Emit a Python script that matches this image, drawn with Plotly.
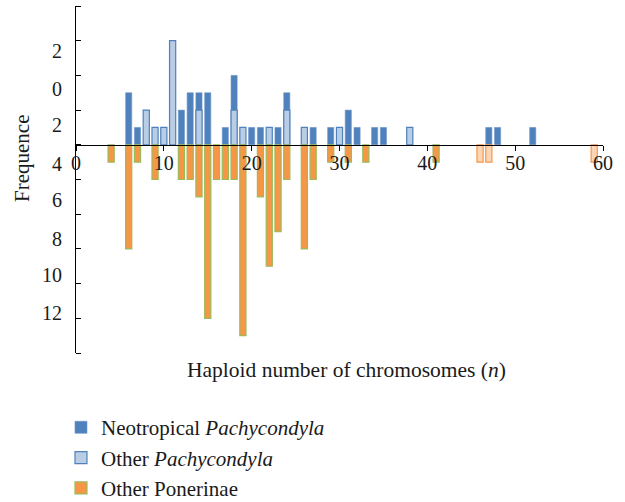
import plotly.graph_objects as go

# Haploid chromosome numbers (n) and how many species carry each one
neo_n = [6, 7, 12, 13, 14, 15, 17, 18, 20, 21, 23, 24, 27, 29, 31, 32, 34, 35, 47, 48, 52]
neo_freq = [3, 1, 2, 3, 3, 3, 1, 4, 1, 1, 1, 3, 1, 1, 2, 1, 1, 1, 1, 1, 1]

other_pachy_n = [8, 9, 10, 11, 14, 18, 19, 22, 24, 26, 30, 38]
other_pachy_freq = [2, 1, 1, 6, 2, 2, 1, 1, 2, 1, 1, 1]

ponerinae_n = [4, 6, 7, 9, 12, 13, 14, 15, 16, 17, 18, 19, 21, 22, 23, 24, 26, 27, 29, 31, 33, 41]
ponerinae_freq = [1, 6, 1, 2, 2, 2, 3, 10, 2, 2, 2, 11, 3, 7, 5, 2, 6, 2, 1, 1, 1, 1]

ponerinae_pale_n = [46, 47, 59]
ponerinae_pale_freq = [1, 1, 1]

# Axis tick labels as printed on the frequency axis
freq_label_pos = [5.43, 3.2, 1.13, -1.1, -3.21, -5.41, -7.52, -9.72]
freq_label_text = ["2", "0", "2", "4", "6", "8", "10", "12"]
freq_tick_marks = [-12, -10, -8, -6, -4, -2, 0, 2, 4, 6, 8]
n_ticks = [0, 10, 20, 30, 40, 50, 60]

SERIF = "Liberation Serif, Times New Roman, serif"
BAR_W = 0.7

fig = go.Figure()
fig.add_trace(go.Bar(
    x=neo_n, y=neo_freq, width=BAR_W,
    name="Neotropical <i>Pachycondyla</i>", legendgroup="a",
    marker=dict(color="#4f81bd", line=dict(color="#6d95c8", width=0.6)),
))
fig.add_trace(go.Bar(
    x=other_pachy_n, y=other_pachy_freq, width=BAR_W,
    name="Other <i>Pachycondyla</i>", legendgroup="b",
    marker=dict(color="#b9cde5", line=dict(color="#4f81bd", width=1.2)),
))
fig.add_trace(go.Bar(
    x=ponerinae_n, y=[-v for v in ponerinae_freq], width=BAR_W,
    name="Other Ponerinae", legendgroup="c",
    marker=dict(color="#f79646", line=dict(color="#9bbb59", width=1.2)),
))
fig.add_trace(go.Bar(
    x=ponerinae_pale_n, y=[-v for v in ponerinae_pale_freq], width=BAR_W,
    name="Other Ponerinae", legendgroup="d", showlegend=False,
    marker=dict(color="#fcd5b5", line=dict(color="#f79646", width=1.2)),
))

fig.update_layout(
    width=625, height=502,
    margin=dict(l=76, r=22, t=6, b=149, autoexpand=False),
    paper_bgcolor="white", plot_bgcolor="white",
    barmode="overlay",
    font=dict(family=SERIF, size=20, color="#1a1a1a"),
    showlegend=True,
    legend=dict(
        x=-0.0285, y=-0.156, xanchor="left", yanchor="top",
        font=dict(family=SERIF, size=21, color="#1a1a1a"),
        traceorder="grouped", tracegroupgap=0,
        bgcolor="rgba(0,0,0,0)",
    ),
    xaxis=dict(
        range=[0, 60], anchor="free", position=0.6,
        tickvals=n_ticks, ticks="outside", ticklen=5, tickcolor="black",
        showline=True, linecolor="black", linewidth=1.2,
        showgrid=False, zeroline=False,
        ticklabelstandoff=-5,
        tickfont=dict(family=SERIF, size=20),
    ),
    yaxis=dict(
        range=[-12, 8], showline=True, linecolor="black", linewidth=1.2,
        tickvals=freq_label_pos, ticktext=freq_label_text, ticks="",
        ticklabelstandoff=9,
        minor=dict(tickvals=freq_tick_marks, ticks="inside", ticklen=5,
                   tickcolor="black", tickwidth=1.2, showgrid=False),
        showgrid=False, zeroline=False,
        tickfont=dict(family=SERIF, size=20),
    ),
    annotations=[
        dict(text="Frequence", textangle=-90, xref="paper", yref="paper",
             x=-0.1025, y=0.562, xanchor="center", yanchor="middle",
             showarrow=False, font=dict(family=SERIF, size=21)),
        dict(text="Haploid number of chromosomes (<i>n</i>)", xref="paper", yref="paper",
             x=0.513, y=-0.049, xanchor="center", yanchor="middle",
             showarrow=False, font=dict(family=SERIF, size=21.5)),
    ],
)

fig.write_html("out.html")
